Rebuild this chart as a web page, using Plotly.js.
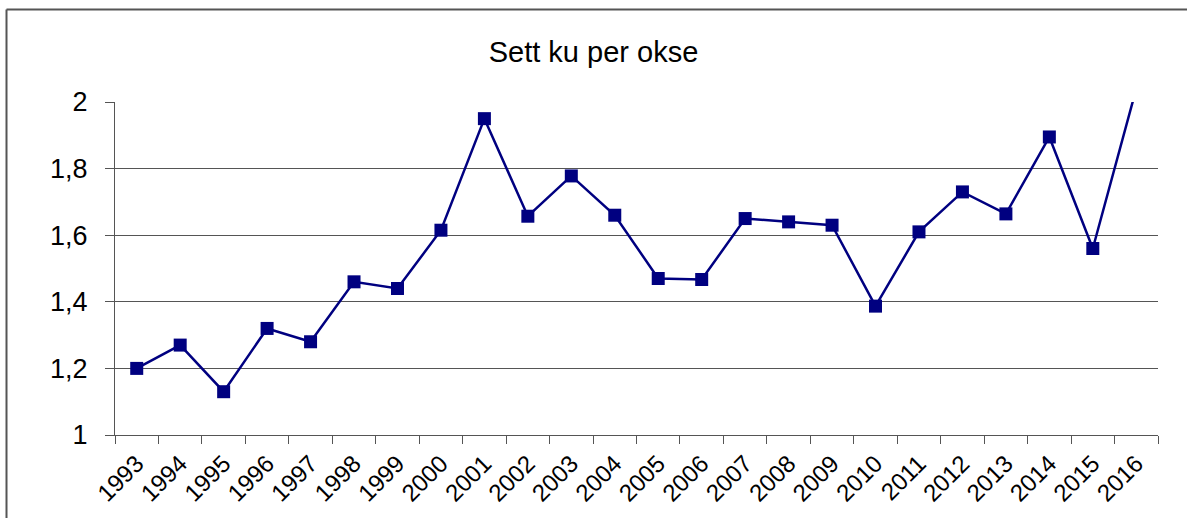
<!DOCTYPE html>
<html>
<head>
<meta charset="utf-8">
<script src="https://cdn.plot.ly/plotly-3.0.1.min.js"></script>
<style>html,body{margin:0;padding:0;background:#fff;}#chart{width:1187px;height:518px;}</style>
</head>
<body>
<div id="chart"></div>
<script>
const years = ["1993","1994","1995","1996","1997","1998","1999","2000","2001","2002","2003","2004","2005","2006","2007","2008","2009","2010","2011","2012","2013","2014","2015","2016"];
const kuPerOkse = [1.20,1.27,1.13,1.32,1.28,1.46,1.44,1.615,1.95,1.657,1.778,1.66,1.47,1.467,1.65,1.64,1.63,1.387,1.61,1.73,1.664,1.895,1.56,2.04];
const yTicks = [1,1.2,1.4,1.6,1.8,2];
const yTickText = ["1","1,2","1,4","1,6","1,8","2"];

const font = "Liberation Sans, Arial, sans-serif";
const W = 1187, H = 518, mL = 115, mR = 29, mT = 102, mB = 83;
const pw = W - mL - mR, ph = H - mT - mB;
const px = x => (x - mL) / pw;
const py = y => (H - mB - y) / ph;

const trace = {
  x: years, y: kuPerOkse, type: "scatter", mode: "lines+markers",
  line: {color: "#000080", width: 2.5},
  marker: {symbol: "square", size: 13, color: "#000080"},
  cliponaxis: true, hoverinfo: "x+y"
};

const layout = {
  width: W, height: H,
  margin: {l: mL, r: mR, t: mT, b: mB, pad: 0},
  paper_bgcolor: "#fff", plot_bgcolor: "#fff",
  font: {family: font, color: "#000"},
  showlegend: false,
  title: {text: "Sett ku per okse", font: {family: font, size: 29, color: "#000"}, x: 0.5, xanchor: "center", y: 1 - 52 / H, yanchor: "middle"},
  xaxis: {
    type: "category", tickson: "boundaries", ticks: "outside", ticklen: 8, tickcolor: "#555", tickwidth: 1,
    tickangle: -45, tickfont: {family: font, size: 24, color: "#000"}, ticklabelstandoff: 4,
    showline: true, linecolor: "#555", linewidth: 1, showgrid: false, zeroline: false,
    range: [-0.5, 23.5], fixedrange: true
  },
  yaxis: {
    range: [1, 2], tickvals: yTicks, ticktext: yTickText, ticks: "outside", ticklen: 9, tickcolor: "#555",
    tickfont: {family: font, size: 27, color: "#000"}, ticklabelstandoff: 12,
    showline: true, linecolor: "#555", linewidth: 1, showgrid: true, gridcolor: "#555", gridwidth: 1,
    zeroline: false, fixedrange: true
  },
  shapes: [
    {type: "line", xref: "paper", yref: "paper", x0: px(6.5), x1: px(1200), y0: py(9.5), y1: py(9.5), line: {color: "#555", width: 2}},
    {type: "line", xref: "paper", yref: "paper", x0: px(6.5), x1: px(6.5), y0: py(9.5), y1: py(530), line: {color: "#555", width: 2}}
  ]
};

Plotly.newPlot("chart", [trace], layout, {displayModeBar: false, staticPlot: true});
</script>
</body>
</html>
